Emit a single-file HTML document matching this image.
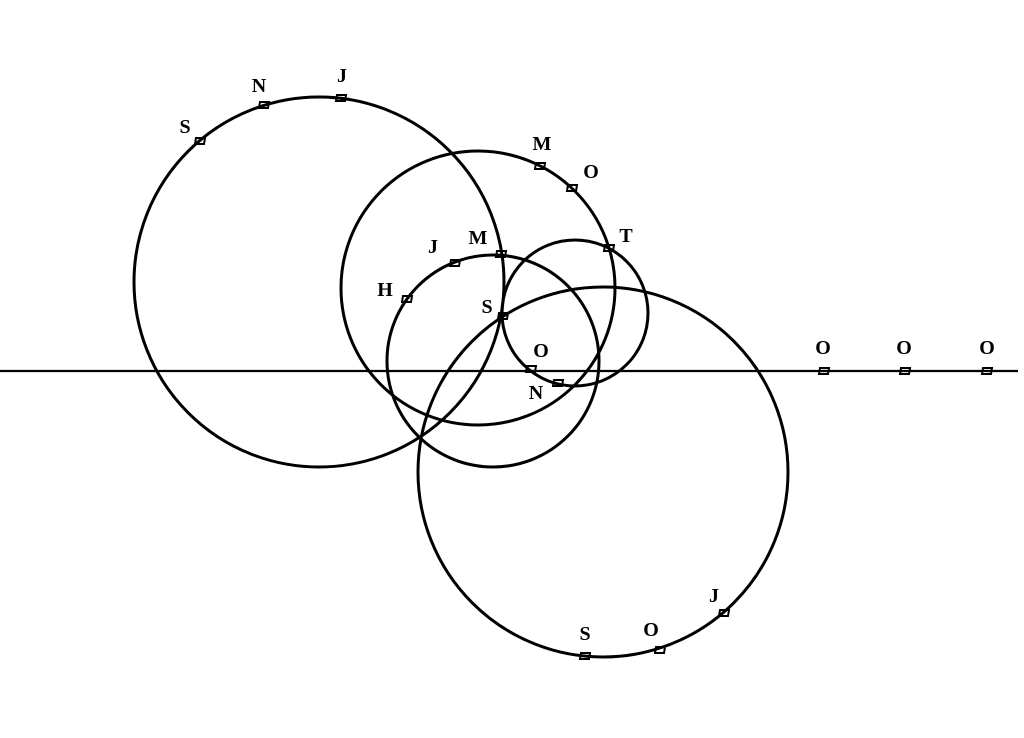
<!DOCTYPE html>
<html><head><meta charset="utf-8"><style>
html,body{margin:0;padding:0;background:#fff;}
svg{display:block;}
text{font-family:"Liberation Serif",serif;font-size:20px;font-weight:bold;fill:#000;text-anchor:middle;dominant-baseline:central;}
</style></head><body>
<svg width="1024" height="738" viewBox="0 0 1024 738" xmlns="http://www.w3.org/2000/svg">
<g fill="none" stroke="#000" stroke-width="3">
<circle cx="319" cy="282" r="185"/>
<circle cx="478" cy="288" r="137"/>
<circle cx="493" cy="361" r="106"/>
<circle cx="575" cy="313" r="73"/>
<circle cx="603" cy="472" r="185"/>
<line x1="0" y1="371" x2="1018" y2="371" stroke-width="2.2"/>
</g>
<g fill="none" stroke="#000" stroke-width="2">
<path id="m" d="M-4,-3 L5,-3 L4,3 L-5,3 Z" transform="translate(200,141)"/>
<path d="M-4,-3 L5,-3 L4,3 L-5,3 Z" transform="translate(264,105)"/>
<path d="M-4,-3 L5,-3 L4,3 L-5,3 Z" transform="translate(341,98)"/>
<path d="M-4,-3 L5,-3 L4,3 L-5,3 Z" transform="translate(540,166)"/>
<path d="M-4,-3 L5,-3 L4,3 L-5,3 Z" transform="translate(572,188)"/>
<path d="M-4,-3 L5,-3 L4,3 L-5,3 Z" transform="translate(609,248)"/>
<path d="M-4,-3 L5,-3 L4,3 L-5,3 Z" transform="translate(455,263)"/>
<path d="M-4,-3 L5,-3 L4,3 L-5,3 Z" transform="translate(501,254)"/>
<path d="M-4,-3 L5,-3 L4,3 L-5,3 Z" transform="translate(407,299)"/>
<path d="M-4,-3 L5,-3 L4,3 L-5,3 Z" transform="translate(503,316)"/>
<path d="M-4,-3 L5,-3 L4,3 L-5,3 Z" transform="translate(531,369)"/>
<path d="M-4,-3 L5,-3 L4,3 L-5,3 Z" transform="translate(558,383)"/>
<path d="M-4,-3 L5,-3 L4,3 L-5,3 Z" transform="translate(824,371)"/>
<path d="M-4,-3 L5,-3 L4,3 L-5,3 Z" transform="translate(905,371)"/>
<path d="M-4,-3 L5,-3 L4,3 L-5,3 Z" transform="translate(987,371)"/>
<path d="M-4,-3 L5,-3 L4,3 L-5,3 Z" transform="translate(724,613)"/>
<path d="M-4,-3 L5,-3 L4,3 L-5,3 Z" transform="translate(660,650)"/>
<path d="M-4,-3 L5,-3 L4,3 L-5,3 Z" transform="translate(585,656)"/>
</g>
<text x="185" y="127">S</text>
<text x="259" y="86">N</text>
<text x="342" y="76">J</text>
<text x="542" y="144">M</text>
<text x="591" y="172">O</text>
<text x="626" y="236">T</text>
<text x="433" y="247">J</text>
<text x="478" y="238">M</text>
<text x="385" y="290">H</text>
<text x="487" y="307">S</text>
<text x="541" y="351">O</text>
<text x="536" y="393">N</text>
<text x="823" y="348">O</text>
<text x="904" y="348">O</text>
<text x="987" y="348">O</text>
<text x="714" y="596">J</text>
<text x="651" y="630">O</text>
<text x="585" y="634">S</text>
</svg>
</body></html>
